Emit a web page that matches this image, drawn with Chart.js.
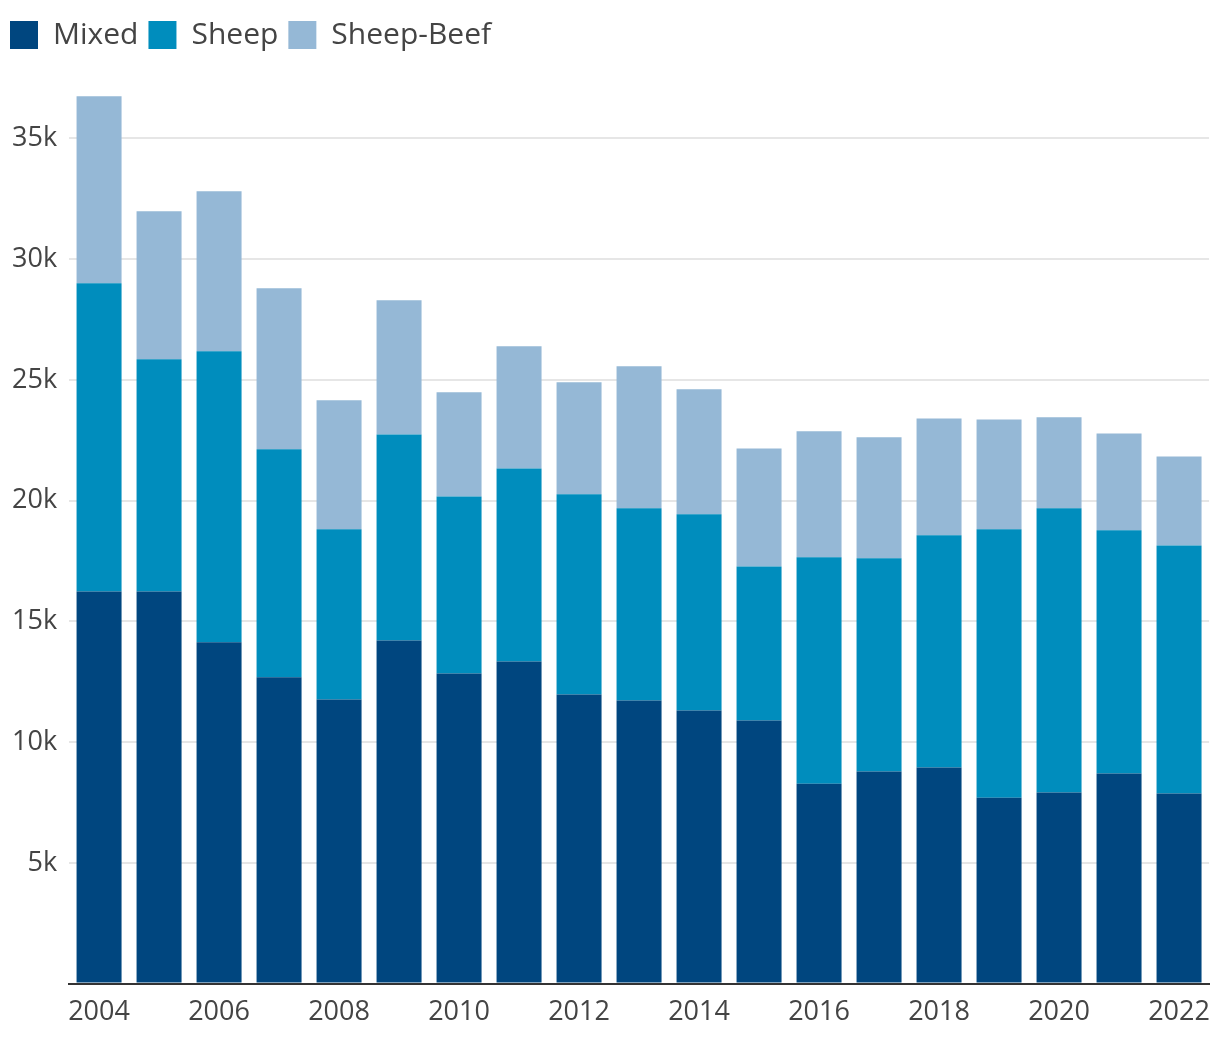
<!DOCTYPE html>
<html>
<head>
<meta charset="utf-8">
<script src="https://cdn.jsdelivr.net/npm/chart.js@4"></script>
<style>
  html, body { margin: 0; padding: 0; background: #fff; }
  #wrap { width: 1220px; height: 1052px; position: relative; }
</style>
</head>
<body>
<div id="wrap"><canvas id="c" width="1220" height="1052"></canvas></div>
<script>
const years = ['2004','2005','2006','2007','2008','2009','2010','2011','2012','2013','2014','2015','2016','2017','2018','2019','2020','2021','2022'];
const mixed = [16240, 16240, 14130, 12680, 11760, 14210, 12840, 13340, 11970, 11720, 11310, 10890, 8280, 8780, 8950, 7700, 7910, 8700, 7870];
const sheep = [12760, 9610, 12050, 9440, 7050, 8530, 7330, 7990, 8290, 7960, 8120, 6380, 9370, 8830, 9610, 11110, 11770, 10070, 10270];
const sheepBeef = [7740, 6130, 6630, 6670, 5340, 5550, 4310, 5060, 4640, 5880, 5180, 4890, 5220, 5010, 4840, 4550, 3770, 4010, 3690];
const yTicks = [5000, 10000, 15000, 20000, 25000, 30000, 35000];

const FONT = '"Open Sans", "Noto Sans", sans-serif';
const TXT = '#444444';

const legendGap = {
  id: 'legendGap',
  afterInit(chart) {
    const lg = chart.legend;
    if (!lg) return;
    const orig = lg.fit;
    lg.fit = function() { orig.call(this); this.height += 30; };
  }
};

new Chart(document.getElementById('c'), {
  type: 'bar',
  data: {
    labels: years,
    datasets: [
      { label: 'Mixed', data: mixed, backgroundColor: '#00467F' },
      { label: 'Sheep', data: sheep, backgroundColor: '#008DBD' },
      { label: 'Sheep-Beef', data: sheepBeef, backgroundColor: '#95B8D6' }
    ]
  },
  plugins: [legendGap],
  options: {
    responsive: false,
    animation: false,
    layout: { padding: { left: 0, right: 0, top: 10, bottom: 10 } },
    datasets: { bar: { categoryPercentage: 0.75, barPercentage: 1.0, borderWidth: 0 } },
    plugins: {
      legend: {
        position: 'top',
        align: 'start',
        labels: {
          boxWidth: 28, boxHeight: 28, padding: 10,
          color: TXT,
          font: { family: FONT, size: 30 }
        }
      },
      tooltip: { enabled: false }
    },
    scales: {
      x: {
        stacked: true,
        grid: { display: false, drawTicks: false },
        border: { display: true, color: '#333333', width: 2 },
        afterFit: function(scale) { scale.paddingRight = Math.max(0, scale.paddingRight - 3); },
        ticks: {
          autoSkip: false, maxRotation: 0, padding: 13,
          color: TXT, font: { family: FONT, size: 27 },
          callback: function(v, i) { return i % 2 === 0 ? years[i] : ''; }
        }
      },
      y: {
        stacked: true,
        min: 0, max: 37000,
        grid: { color: '#e6e6e6', lineWidth: 2, drawTicks: false },
        border: { display: false },
        afterBuildTicks: function(scale) { scale.ticks = [0].concat(yTicks).map(v => ({ value: v })); },
        ticks: {
          padding: 12,
          color: TXT, font: { family: FONT, size: 27 },
          callback: function(v) { return v === 0 ? '' : (v / 1000) + 'k'; }
        }
      }
    }
  }
});
</script>
</body>
</html>
